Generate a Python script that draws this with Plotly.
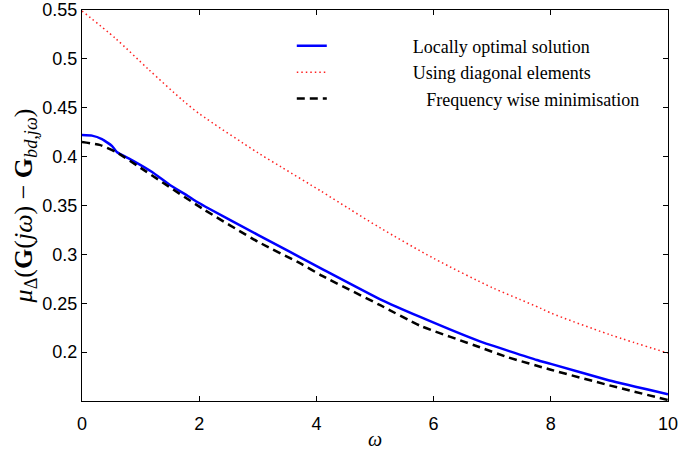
import plotly.graph_objects as go

# --- data ---
w_loc = [0.0, 0.17, 0.34, 0.51, 0.6, 0.85, 1.19, 1.5, 1.8, 1.96, 2.1, 3.0, 4.1, 5.09, 5.77, 6.79, 7.76, 8.0, 9.0, 10.0]
mu_loc = [0.422, 0.4215, 0.418, 0.411, 0.4044, 0.3965, 0.3845, 0.371, 0.360, 0.3538, 0.349, 0.320, 0.285, 0.254, 0.236, 0.211, 0.192, 0.188, 0.171, 0.157]

w_diag = [0.0, 0.57, 1.14, 1.71, 2.0, 3.0, 3.41, 4.07, 4.55, 5.09, 6.0, 7.0, 7.47, 7.82, 8.0, 9.0, 10.0]
mu_diag = [0.549, 0.521, 0.489, 0.458, 0.444, 0.404, 0.389, 0.365, 0.347, 0.327, 0.296, 0.266, 0.254, 0.245, 0.240, 0.218, 0.199]

w_freq = [0.0, 0.3, 0.6, 1.0, 2.05, 3.0, 3.72, 4.1, 5.09, 5.77, 6.79, 7.25, 8.0, 9.0, 10.0]
mu_freq = [0.415, 0.412, 0.404, 0.3885, 0.347, 0.313, 0.291, 0.278, 0.248, 0.227, 0.205, 0.195, 0.182, 0.166, 0.151]

pad = "\u00a0" * 18
names = [pad + "Locally optimal solution", pad + "Using diagonal elements",
         pad + "\u00a0\u00a0\u00a0Frequency wise minimisation"]
x_ticks = [0, 2, 4, 6, 8, 10]
y_ticks = [0.2, 0.25, 0.3, 0.35, 0.4, 0.45, 0.5, 0.55]
y_ticktext = ["0.2", "0.25", "0.3", "0.35", "0.4", "0.45", "0.5", "0.55"]

fig = go.Figure()
fig.add_trace(go.Scatter(x=w_loc, y=mu_loc, mode="lines", name=names[0], legendgroup="a",
                         line=dict(color="#0000ff", width=2.5, shape="spline", smoothing=0.35)))
fig.add_trace(go.Scatter(x=w_diag, y=mu_diag, mode="lines", name=names[1], legendgroup="b",
                         line=dict(color="#ff2020", width=1.5, dash="1.5px,3px", shape="spline", smoothing=0.8)))
fig.add_trace(go.Scatter(x=w_freq, y=mu_freq, mode="lines", name=names[2], legendgroup="c",
                         line=dict(color="black", width=2.5, dash="8px,5px", shape="spline", smoothing=0.5)))

axis_common = dict(showgrid=False, zeroline=False, showline=True, linecolor="black", linewidth=1,
                   mirror="ticks", ticks="inside", ticklen=5, tickcolor="black", automargin=False,
                   tickfont=dict(family="Liberation Sans, Arial", size=18, color="black"))

fig.update_xaxes(range=[0, 10], tickvals=x_ticks, ticklabelstandoff=6,
                 title=dict(text="<i>ω</i>", font=dict(family="Liberation Serif", size=20, color="black"), standoff=0),
                 **axis_common)
fig.update_yaxes(range=[0.15, 0.55], tickvals=y_ticks, ticktext=y_ticktext,
                 title=dict(text="\u00a0\u00a0\u00a0<i>μ</i><sub>Δ</sub>(<b>G</b>(<i>jω</i>) − <b>G</b><sub><i>bd,jω</i></sub>)",
                            font=dict(family="Liberation Serif", size=26, color="black"), standoff=2),
                 **axis_common)

fig.update_layout(
    width=681, height=450,
    margin=dict(l=82, r=13, t=10, b=49),
    plot_bgcolor="white", paper_bgcolor="white",
    showlegend=True,
    legend=dict(x=0.358, y=0.955, xanchor="left", yanchor="top", bgcolor="rgba(0,0,0,0)",
                font=dict(family="Liberation Serif", size=18, color="black"),
                tracegroupgap=2, traceorder="normal"),
)

fig.write_html("out.html", config={"displayModeBar": False},
               post_script="document.body.style.margin='0';document.body.style.overflow='hidden';")
